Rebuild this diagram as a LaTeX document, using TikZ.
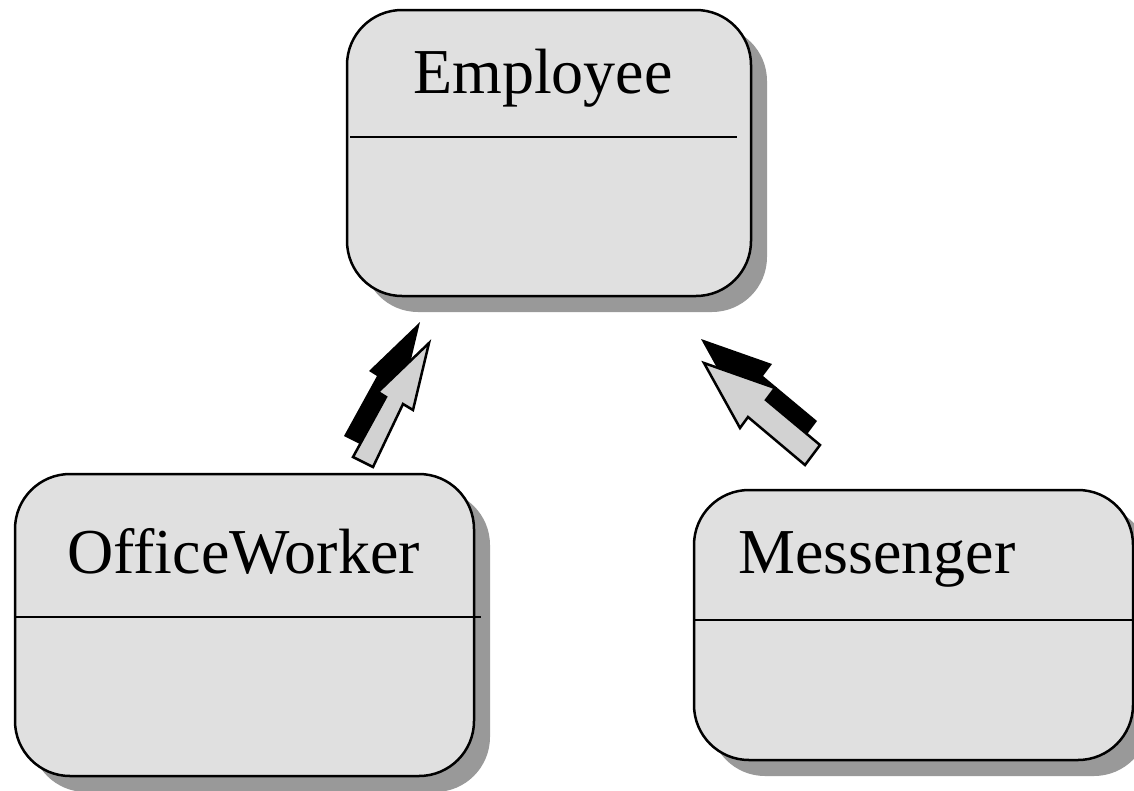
\documentclass[tikz,border=0pt]{standalone}
\usepackage{fontspec}
\setmainfont{Liberation Serif}
\usetikzlibrary{shadows}

\definecolor{boxfill}{HTML}{E0E0E0}
\definecolor{shadowgray}{HTML}{999999}
\definecolor{arrowgray}{HTML}{D2D2D2}

\tikzset{
  classbox/.style={draw=black, line width=2.5pt, fill=boxfill,
    rounded corners=55pt, inner sep=0pt,
    drop shadow={shadow xshift=16pt, shadow yshift=-16pt,
      fill=shadowgray, opacity=1}},
  divider/.style={draw=black, line width=2pt},
  classname/.style={anchor=base west, inner sep=0pt,
    font=\fontsize{64}{70}\selectfont},
  arrowbody/.style={fill=arrowgray, draw=black, line width=2.5pt, line join=miter},
  arrowshade/.style={fill=black},
}

\begin{document}
\begin{tikzpicture}[x=1pt, y=-1pt]
  \useasboundingbox (0,0) rectangle (1134,790);

  % class boxes
  \node[classbox, minimum width=404pt, minimum height=286pt] (employee) at (549,153) {};
  \node[classbox, minimum width=459pt, minimum height=302pt] (officeworker) at (244.5,625) {};
  \node[classbox, minimum width=439pt, minimum height=270pt] (messenger) at (913.5,625) {};

  % compartment dividers
  \draw[divider] (350,137) -- (737,137);
  \draw[divider] (15,617) -- (481,617);
  \draw[divider] (694,620) -- (1134,620);

  % class names
  \node[classname] (employeename) at (413,93) {Employee};
  \node[classname] (officeworkername) at (67,573) {OfficeWorker};
  \node[classname] (messengername) at (738,573) {Messenger};

  % generalisation arrow: OfficeWorker -> Employee
  \begin{scope}[shift={(-9,-21)}]
    \fill[arrowshade] (429,343) -- (413,410) -- (403,404) -- (373,467)
      -- (353,457) -- (386,397) -- (378,392) -- cycle;
  \end{scope}
  \draw[arrowbody] (429,343) -- (413,410) -- (403,404) -- (373,467)
    -- (353,457) -- (386,397) -- (378,392) -- cycle;

  % generalisation arrow: Messenger -> Employee
  \begin{scope}[shift={(-3,-24)}]
    \fill[arrowshade] (704,363) -- (775,388) -- (766,400) -- (820,445)
      -- (805,465) -- (748,417) -- (740,428) -- cycle;
  \end{scope}
  \draw[arrowbody] (704,363) -- (775,388) -- (766,400) -- (820,445)
    -- (805,465) -- (748,417) -- (740,428) -- cycle;
\end{tikzpicture}
\end{document}
